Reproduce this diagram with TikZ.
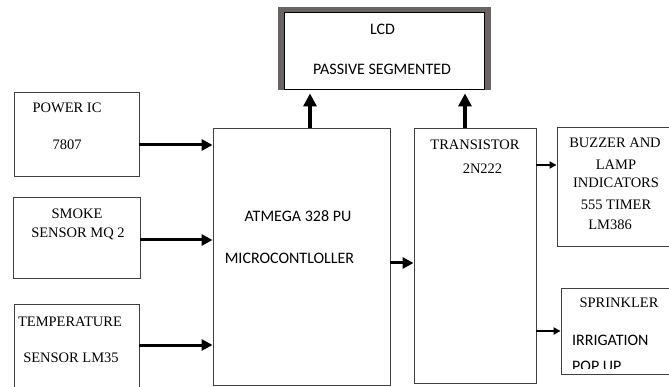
\documentclass[tikz,border=0pt]{standalone}
\usepackage{fontspec}
\setmainfont{Liberation Serif}
\newfontfamily\calibfont{Carlito}
\usetikzlibrary{shapes,arrows.meta,positioning,calc}
\definecolor{lcdgray}{RGB}{105,100,100}

\begin{document}
\begin{tikzpicture}[x=1pt,y=-1pt,
  blk/.style={draw=black!75,line width=0.9pt,rectangle,inner sep=0pt},
  txt/.style={anchor=base,inner sep=0pt,font=\fontsize{14.5}{17}\selectfont},
  stxt/.style={anchor=base,inner sep=0pt,font=\calibfont\fontsize{16}{19}\selectfont},
  big/.style={line width=3pt,-{Triangle[length=11pt,width=11pt]}},
  up/.style={line width=4pt,-{Triangle[length=13pt,width=13pt]}},
  small/.style={line width=2pt,-{Triangle[length=7pt,width=7pt]}}]
  \useasboundingbox (0,0) rectangle (669,387);
  \clip (0,0) rectangle (669,387);

  \node[blk,minimum width=125pt,minimum height=84pt] (power) at (76.5,134) {};
  \node[blk,minimum width=127pt,minimum height=81pt] (smoke) at (76.5,237.5) {};
  \node[blk,minimum width=125pt,minimum height=100pt] (temp) at (76.5,354) {};
  \node[blk,minimum width=177pt,minimum height=257pt] (micro) at (301.5,256.5) {};
  \node[blk,minimum width=122pt,minimum height=255pt] (trans) at (475,255.5) {};
  \node[blk,minimum width=133pt,minimum height=119pt] (buzzer) at (623.5,186.5) {};
  \node[blk,minimum width=129pt,minimum height=86pt] (sprink) at (625.5,331) {};
  \node[rectangle,fill=lcdgray,minimum width=213pt,minimum height=83pt] (lcdframe) at (384.5,48.5) {};
  \node[blk,draw=black,fill=white,minimum width=200pt,minimum height=77pt] (lcd) at (384,50.5) {};

  \node[txt] (pwr1) at (67,113) {POWER IC};
  \node[txt] (pwr2) at (67,150) {7807};
  \node[txt] (smk1) at (77,219) {SMOKE};
  \node[txt] (smk2) at (78,238) {SENSOR MQ 2};
  \node[txt] (tmp1) at (70,326) {TEMPERATURE};
  \node[txt] (tmp2) at (71,362) {SENSOR LM35};
  \node[stxt] (lcd1) at (382.5,35) {LCD};
  \node[stxt] (lcd2) at (382,75) {PASSIVE SEGMENTED};
  \node[stxt] (mcu1) at (298,222) {ATMEGA 328 PU};
  \node[stxt] (mcu2) at (289.5,264) {MICROCONTLOLLER};
  \node[txt] (trn1) at (475,150) {TRANSISTOR};
  \node[txt] (trn2) at (482.5,174) {2N222};
  \node[txt] (buz1) at (615,148) {BUZZER AND};
  \node[txt] (buz2) at (616,170) {LAMP};
  \node[txt] (buz3) at (616,188) {INDICATORS};
  \node[txt] (buz4) at (616,210) {555 TIMER};
  \node[txt] (buz5) at (610,230) {LM386};
  \node[txt] (spr1) at (619,308) {SPRINKLER};
  \node[stxt,anchor=base west] (spr2) at (572,345) {IRRIGATION};
  \begin{scope}
    \clip (560,350) rectangle (680,368);
    \node[stxt,anchor=base west] (spr3) at (572,371) {POP UP};
  \end{scope}

  \foreach \src/\yy in {power/145,smoke/240,temp/345} {
    \draw[big] (\src.east |- 0,\yy) -- (micro.west |- 0,\yy);
  }
  \draw[big] (micro.east |- 0,263) -- (trans.west |- 0,263);
  \draw[up,shorten >=4pt] (micro.north -| 310,0) -- (lcd.south -| 310,0);
  \draw[up,shorten >=4pt] (trans.north -| 465,0) -- (lcd.south -| 465,0);
  \draw[small] (trans.east |- 0,165) -- (buzzer.west |- 0,165);
  \draw[small] (trans.east |- 0,331) -- (sprink.west |- 0,331);
\end{tikzpicture}
\end{document}
